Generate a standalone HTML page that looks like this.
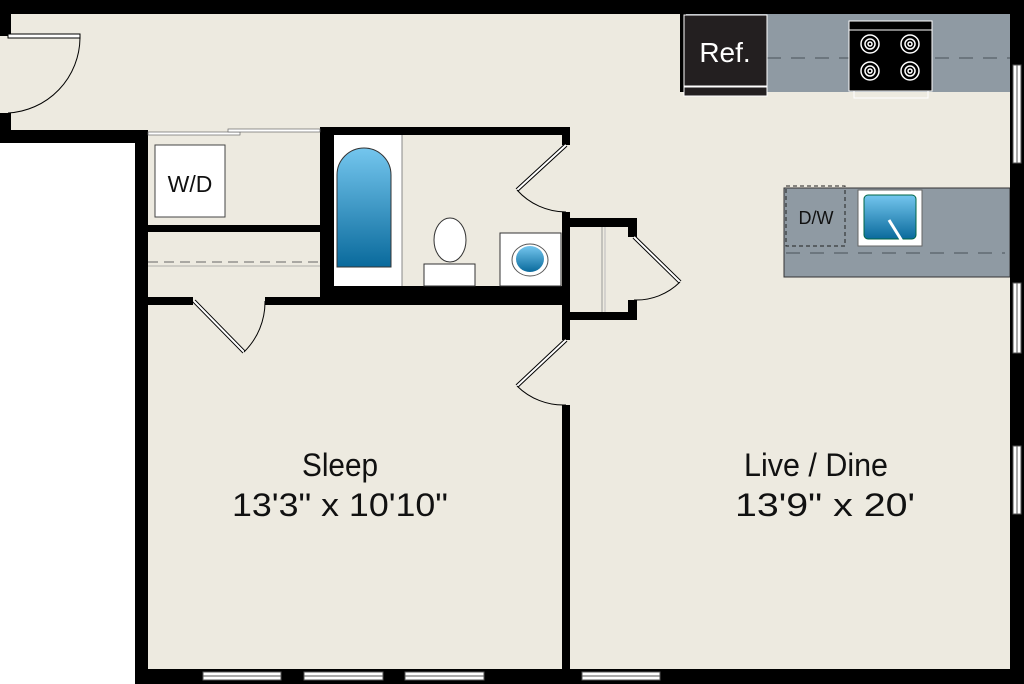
<!DOCTYPE html>
<html><head><meta charset="utf-8"><style>
html,body{margin:0;padding:0;background:#fff;}
svg{display:block;}
text{font-family:"Liberation Sans",sans-serif;}
</style></head><body>
<svg width="1024" height="684" viewBox="0 0 1024 684" xmlns="http://www.w3.org/2000/svg">
<defs>
<linearGradient id="blue" x1="0" y1="0" x2="0" y2="1">
<stop offset="0" stop-color="#74c6ee"/><stop offset="1" stop-color="#0a6a9c"/></linearGradient>
</defs>
<path d="M0,0 H1024 V684 H135 V143 H0 Z" fill="#edeae0"/>
<rect x="684" y="14" width="326" height="78" fill="#8f9aa3"/>
<line x1="767" y1="58" x2="1010" y2="58" stroke="#4a5158" stroke-dasharray="14,10" stroke-width="1"/>
<rect x="784" y="188" width="226" height="89" fill="#8f9aa3" stroke="#333" stroke-width="1"/>
<line x1="786" y1="253" x2="1005" y2="253" stroke="#4a5158" stroke-dasharray="14,10"/>
<rect x="786" y="186" width="59" height="60" fill="none" stroke="#222" stroke-dasharray="4,3"/>
<text x="816" y="224" font-size="18" text-anchor="middle" fill="#111">D/W</text>
<rect x="858" y="190" width="64" height="56" fill="#fff" stroke="#666"/>
<rect x="864" y="195" width="52" height="44" rx="4" fill="url(#blue)" stroke="#064"/>
<line x1="889" y1="220" x2="902" y2="241" stroke="#fff" stroke-width="3"/>
<rect x="680" y="14" width="6" height="78" fill="#000"/>
<rect x="684" y="15" width="83" height="71" fill="#231f20" stroke="#fff" stroke-width="1"/>
<rect x="684" y="87" width="83" height="9" fill="#231f20" stroke="#fff" stroke-width="1"/>
<text x="725" y="62" font-size="28" text-anchor="middle" fill="#fff">Ref.</text>
<rect x="849" y="21" width="83" height="70" fill="#000" stroke="#fff"/>
<line x1="849" y1="30" x2="932" y2="30" stroke="#fff"/>
<rect x="854" y="91" width="74" height="7" fill="none" stroke="#fff"/>
<g fill="none" stroke="#fff" stroke-width="1.5">
<circle cx="870" cy="44" r="9"/><circle cx="870" cy="44" r="5"/><circle cx="870" cy="44" r="2"/>
<circle cx="910" cy="44" r="9"/><circle cx="910" cy="44" r="5"/><circle cx="910" cy="44" r="2"/>
<circle cx="870" cy="71" r="9"/><circle cx="870" cy="71" r="5"/><circle cx="870" cy="71" r="2"/>
<circle cx="910" cy="71" r="9"/><circle cx="910" cy="71" r="5"/><circle cx="910" cy="71" r="2"/>
</g>
<g fill="#000">
<rect x="0" y="0" width="1024" height="14"/>
<rect x="0" y="0" width="11" height="36"/>
<rect x="0" y="113" width="11" height="30"/>
<rect x="0" y="130" width="148" height="13"/>
<rect x="135" y="130" width="13" height="554"/>
<rect x="1010" y="0" width="14" height="684"/>
<rect x="135" y="669" width="889" height="15"/>
<rect x="320" y="127" width="250" height="8"/>
<rect x="320" y="127" width="14" height="178"/>
<rect x="562" y="127" width="8" height="18"/>
<rect x="562" y="212" width="8" height="128"/>
<rect x="320" y="286" width="250" height="19"/>
<rect x="148" y="225" width="172" height="7"/>
<rect x="148" y="297" width="45" height="8"/>
<rect x="265" y="297" width="60" height="8"/>
<rect x="570" y="218" width="67" height="9"/>
<rect x="628" y="218" width="9" height="19"/>
<rect x="628" y="300" width="9" height="20"/>
<rect x="570" y="312" width="67" height="8"/>
<rect x="562" y="405" width="8" height="264"/>
</g>
<g fill="#fff" stroke="#555" stroke-width="1">
<rect x="1013" y="65" width="8" height="98"/>
<rect x="1013" y="283" width="8" height="70"/>
<rect x="1013" y="446" width="8" height="68"/>
<rect x="203" y="672" width="78" height="8"/>
<rect x="304" y="672" width="79" height="8"/>
<rect x="405" y="672" width="79" height="8"/>
<rect x="582" y="672" width="78" height="8"/>
</g>
<g stroke="#555" stroke-width="1">
<line x1="1017" y1="65" x2="1017" y2="163"/><line x1="1017" y1="283" x2="1017" y2="353"/><line x1="1017" y1="446" x2="1017" y2="514"/>
<line x1="203" y1="676" x2="281" y2="676"/><line x1="304" y1="676" x2="383" y2="676"/><line x1="405" y1="676" x2="484" y2="676"/><line x1="582" y1="676" x2="660" y2="676"/>
</g>
<rect x="148" y="132" width="92" height="3" fill="#fff" stroke="#666" stroke-width="0.7"/>
<rect x="228" y="129" width="92" height="3" fill="#fff" stroke="#666" stroke-width="0.7"/>
<rect x="155" y="145" width="70" height="72" fill="#fff" stroke="#444"/>
<text x="190" y="192" font-size="23" text-anchor="middle" fill="#111">W/D</text>
<line x1="148" y1="262" x2="320" y2="262" stroke="#666" stroke-dasharray="10,6"/>
<line x1="148" y1="266" x2="320" y2="266" stroke="#999" stroke-width="0.7"/>
<rect x="334" y="135" width="228" height="151" fill="#edeae0"/>
<rect x="334" y="135" width="68" height="151" fill="#fff"/>
<line x1="402" y1="135" x2="402" y2="286" stroke="#888"/>
<path d="M337,267 V175 A27,27 0 0 1 391,175 V267 Z" fill="url(#blue)" stroke="#333"/>
<ellipse cx="450" cy="240" rx="16" ry="22" fill="#fff" stroke="#333"/>
<rect x="424" y="264" width="51" height="22" fill="#fff" stroke="#333"/>
<rect x="500" y="233" width="61" height="53" fill="#fff" stroke="#333"/>
<ellipse cx="530" cy="260" rx="18" ry="16" fill="#fff" stroke="#555"/>
<ellipse cx="530" cy="259" rx="14" ry="13" fill="url(#blue)"/>
<line x1="602" y1="227" x2="602" y2="312" stroke="#999"/>
<line x1="605" y1="227" x2="605" y2="312" stroke="#bbb"/>
<g fill="none" stroke="#000" stroke-width="1">
<rect x="8" y="34" width="72" height="4" fill="#fff"/>
<path d="M80,38 A76,76 0 0 1 8,113"/>
<line x1="566" y1="145" x2="517" y2="190" stroke-width="4"/>
<line x1="566" y1="145" x2="517" y2="190" stroke="#fff" stroke-width="2"/>
<path d="M517,190 A66,66 0 0 0 566,212"/>
<line x1="194" y1="301" x2="244" y2="352" stroke-width="4"/>
<line x1="194" y1="301" x2="244" y2="352" stroke="#fff" stroke-width="2"/>
<path d="M244,352 A70,70 0 0 0 265,301"/>
<line x1="634" y1="237" x2="680" y2="282" stroke-width="4"/>
<line x1="634" y1="237" x2="680" y2="282" stroke="#fff" stroke-width="2"/>
<path d="M680,282 A62,62 0 0 1 634,300"/>
<line x1="566" y1="340" x2="517" y2="386" stroke-width="4"/>
<line x1="566" y1="340" x2="517" y2="386" stroke="#fff" stroke-width="2"/>
<path d="M517,386 A66,66 0 0 0 566,405"/>
</g>
<g fill="#111" font-size="32">
<text x="302" y="476" textLength="76" lengthAdjust="spacingAndGlyphs">Sleep</text>
<text x="232" y="516" textLength="216" lengthAdjust="spacingAndGlyphs">13'3" x 10'10"</text>
<text x="744" y="476" textLength="144" lengthAdjust="spacingAndGlyphs">Live / Dine</text>
<text x="735" y="516" textLength="180" lengthAdjust="spacingAndGlyphs">13'9" x 20'</text>
</g>
</svg>
</body></html>
